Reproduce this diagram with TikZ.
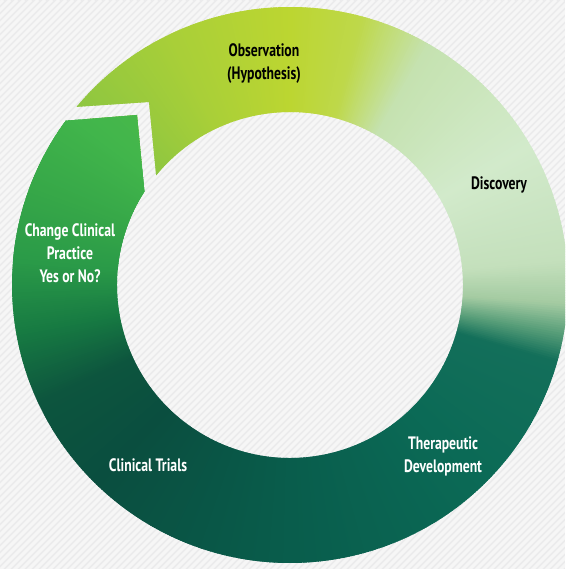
\documentclass[tikz,border=0pt]{standalone}
\usepackage{fontspec}
\setmainfont{PT Sans}[FakeStretch=0.76]
\definecolor{bgc}{HTML}{EBEBEC}
\definecolor{stc}{HTML}{F6F6F6}
\definecolor{k1}{HTML}{8DC641}
\definecolor{k2}{HTML}{A9CF38}
\definecolor{k3}{HTML}{BCD631}
\definecolor{k4}{HTML}{BED84A}
\definecolor{k5}{HTML}{C5E2B0}
\definecolor{k6}{HTML}{D2EACB}
\definecolor{k7}{HTML}{C4E0BC}
\definecolor{k8}{HTML}{A4CBA2}
\definecolor{k9}{HTML}{5A9F7A}
\definecolor{k10}{HTML}{136F5A}
\definecolor{k11}{HTML}{0B6A56}
\definecolor{k12}{HTML}{095D4C}
\definecolor{k13}{HTML}{0A4E3F}
\definecolor{k14}{HTML}{0D553E}
\definecolor{k15}{HTML}{177A42}
\definecolor{k16}{HTML}{2A9A48}
\definecolor{k17}{HTML}{36A748}
\definecolor{k18}{HTML}{41B54B}
\definecolor{k19}{HTML}{4AB94A}
\tikzset{
  stripe/.style={draw=stc, line width=3pt},
  lab/.style={font=\bfseries\fontsize{18}{23}\selectfont, align=center, inner sep=0pt},
  darklab/.style={lab, text=black},
  lightlab/.style={lab, text=white}
}
\newcommand\ringwedges[1]{%
  \foreach \aa/\ca/\ab/\cb in {#1}{%
    \pgfmathtruncatemacro\n{2*(\ab-\aa)}%
    \foreach \i in {1,...,\n}{%
      \pgfmathtruncatemacro\p{100-100*(\i-0.5)/\n}%
      \pgfmathsetmacro\s{\aa+(\i-1)/2}%
      \fill[\ca!\p!\cb] (0,0) -- (\s:300) -- (\s+0.8:300) -- cycle;
    }%
  }%
}
\begin{document}
\begin{tikzpicture}[x=1pt,y=-1pt]
\useasboundingbox (0,0) rectangle (565,569);
\clip (0,0) rectangle (565,569);
% background
\fill[bgc] (0,0) rectangle (565,569);
\foreach \k in {-600,-593,...,600} \draw[stripe] (\k,575) -- (\k+575,0);
% ring
\begin{scope}[shift={(290,285)}]
  \clip (-140.14:278) arc[start angle=-140.14, end angle=216.23, radius=278]
     -- (-153,-170) -- (212.69:173)
     arc[start angle=212.69, end angle=-140.69, radius=173]
     -- (-141,-183) -- cycle;
  \ringwedges{-141/k1/-115/k2, -115/k2/-90/k3, -90/k3/-75/k4,
     -75/k4/-60/k5, -60/k5/-30/k6, -30/k6/-5/k7, -5/k7/4/k8, 4/k8/10/k9,
     10/k9/16/k10, 16/k10/45/k11, 45/k11/90/k12, 90/k12/135/k13,
     135/k13/155/k14, 155/k14/170/k15, 170/k15/185/k16, 185/k16/200/k17,
     200/k17/218/k18}
  % green arrow tip, drawn over the start of the yellow part
  \begin{scope}
    \clip (-400,-150.2) -- (-153,-170) -- (-136.5,0) -- (-400,0) -- cycle;
    \ringwedges{185/k16/200/k17, 200/k17/218/k18, 218/k18/234/k19}
  \end{scope}
\end{scope}
% labels
\node[darklab] (obs) at (264,64) {Observation\\(Hypothesis)};
\node[darklab] (disc) at (499,185) {Discovery};
\node[lightlab] (ther) at (443,456) {Therapeutic\\Development};
\node[lightlab] (clin) at (148,465) {Clinical Trials};
\node[lightlab] (chg) at (70,253) {Change Clinical\\Practice\\Yes or No?};
\end{tikzpicture}
\end{document}
